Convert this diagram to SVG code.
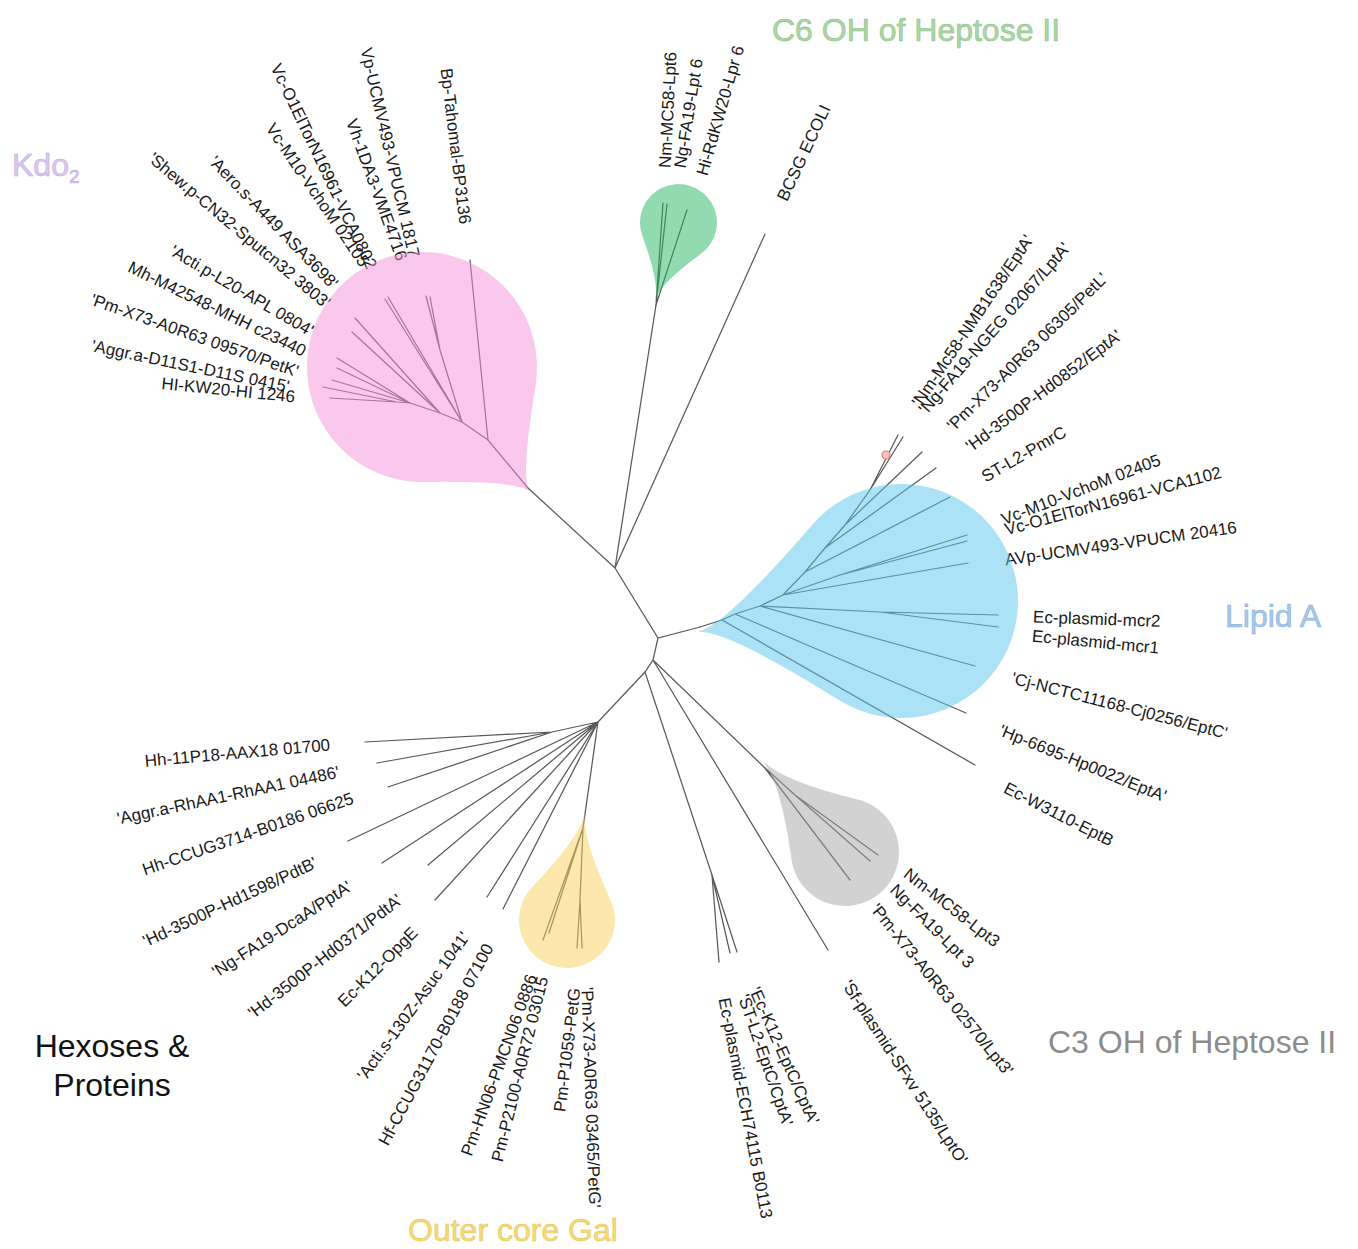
<svg xmlns="http://www.w3.org/2000/svg" width="1358" height="1249" viewBox="0 0 1358 1249">
<style>
.br{stroke:#5a5a5a;stroke-width:1.25;fill:none;stroke-linecap:round}
.lb{font-family:"Liberation Sans",Arial,sans-serif;font-size:17px;fill:#1a1a1a;dominant-baseline:central}
.e{text-anchor:end}
.ti{font-family:"Liberation Sans",Arial,sans-serif;font-size:32px}
.blob{opacity:0.5}
</style>
<rect width="1358" height="1249" fill="#ffffff"/>
<g id="branches">
<path class="br" d="M528,488L488,440L462,422L440,413L410,403M528,488L615,568L656,305M615,568L765,234M615,568L658,638L700,627M658,638L653,660L645,672L598,722M645,672L712,875M653,660L828,950M653,660L765,768"/>
<path class="br" d="M488,440L470,260M462,422L440,350L426,296M440,350L430,297M462,422L388,297M462,422L385,299M440,413L355,318M440,413L352,332M410,403L337,358M410,403L337,368M410,403L332,380M410,403L397,402L323,387M397,402L330,398"/>
<path class="br" d="M656,305L663,203M656,305L667,204M656,305L687,210"/>
<path class="br" d="M700,627L722,620L735,614L760,606L783,595L805,572L825,548L845,525L870,490L898,435M870,490L903,437M722,620L975,765M735,614L966,713M760,606L975,666M760,606L880,612L998,615M880,612L998,627M783,595L968,563M783,595L840,575L967,535M840,575L967,541M805,572L950,497M825,548L936,468M845,525L922,452"/>
<path class="br" d="M765,768L795,795L878,855M795,795L870,861M765,768L850,880M712,875L719,962M712,875L730,953M712,875L737,952"/>
<path class="br" d="M598,722L552,732L365,742M552,732L377,763M552,732L388,787M598,722L348,841M598,722L382,863M598,722L428,865M598,722L435,900M598,722L487,897M598,722L503,909M598,722L583,828L543,940M583,828L549,933M583,828L580,900L577,948M580,900L582,948"/>
<circle cx="886" cy="455" r="4" fill="#f7c4c4" stroke="#e07a7a" stroke-width="1.2"/>
</g>
<g id="kdo2-labels">
<text class="lb e" transform="translate(465,224) rotate(83)">Bp-Tahomal-BP3136</text>
<text class="lb e" transform="translate(414,257) rotate(77)">Vp-UCMV493-VPUCM 1817</text>
<text class="lb e" transform="translate(402,260) rotate(70)">Vh-1DA3-VME4716</text>
<text class="lb e" transform="translate(372,268) rotate(64.5)">Vc-O1ElTorN16961-VCA0802</text>
<text class="lb e" transform="translate(365,265) rotate(55.7)">Vc-M10-VchoM 02105</text>
<text class="lb e" transform="translate(335,286) rotate(46)">'Aero.s-A449 ASA3698'</text>
<text class="lb e" transform="translate(328,305) rotate(40)">'Shew.p-CN32-Sputcn32 3803'</text>
<text class="lb e" transform="translate(312,332) rotate(30.4)">'Acti.p-L20-APL 0804'</text>
<text class="lb e" transform="translate(305,352) rotate(26)">Mh-M42548-MHH c23440</text>
<text class="lb e" transform="translate(298,372) rotate(19.4)">'Pm-X73-A0R63 09570/PetK'</text>
<text class="lb e" transform="translate(289,387) rotate(11.8)">'Aggr.a-D11S1-D11S 0415'</text>
<text class="lb e" transform="translate(295,397) rotate(5.8)">HI-KW20-HI 1246</text>
</g>
<g id="c6-labels">
<text class="lb" transform="translate(665,168) rotate(-87)">Nm-MC58-Lpt6</text>
<text class="lb" transform="translate(680,168) rotate(-81)">Ng-FA19-Lpt 6</text>
<text class="lb" transform="translate(702,175) rotate(-74)">Hi-RdKW20-Lpr 6</text>
<text class="lb" transform="translate(782,200) rotate(-65)">BCSG ECOLI</text>
</g>
<g id="lipidA-labels">
<text class="lb" transform="translate(916,405) rotate(-56)">'Nm-Mc58-NMB1638/EptA'</text>
<text class="lb" transform="translate(922,412) rotate(-49)">'Ng-FA19-NGEG 02067/LptA'</text>
<text class="lb" transform="translate(950,428) rotate(-44.5)">'Pm-X73-A0R63 06305/PetL'</text>
<text class="lb" transform="translate(968,448) rotate(-37)">'Hd-3500P-Hd0852/EptA'</text>
<text class="lb" transform="translate(983,478) rotate(-30)">ST-L2-PmrC</text>
<text class="lb" transform="translate(1002,520) rotate(-21)">Vc-M10-VchoM 02405</text>
<text class="lb" transform="translate(1005,530) rotate(-15)">Vc-O1ElTorN16961-VCA1102</text>
<text class="lb" transform="translate(1005,560) rotate(-8)">AVp-UCMV493-VPUCM 20416</text>
<text class="lb" transform="translate(1033,617) rotate(2)">Ec-plasmid-mcr2</text>
<text class="lb" transform="translate(1032,636) rotate(5.5)">Ec-plasmid-mcr1</text>
<text class="lb" transform="translate(1012,678) rotate(14.5)">'Cj-NCTC11168-Cj0256/EptC'</text>
<text class="lb" transform="translate(1000,730) rotate(22)">'Hp-6695-Hp0022/EptA'</text>
<text class="lb" transform="translate(1005,787) rotate(27)">Ec-W3110-EptB</text>
</g>
<g id="c3-labels">
<text class="lb" transform="translate(906,872) rotate(38)">Nm-MC58-Lpt3</text>
<text class="lb" transform="translate(893,887) rotate(45)">Ng-FA19-Lpt 3</text>
<text class="lb" transform="translate(874,906) rotate(51)">'Pm-X73-A0R63 02570/Lpt3'</text>
<text class="lb" transform="translate(846,982) rotate(57)">'Sf-plasmid-SFxv 5135/LptO'</text>
<text class="lb" transform="translate(754,988) rotate(66)">'Ec-K12-EptC/CptA'</text>
<text class="lb" transform="translate(743,995) rotate(71)">'ST-L2-EptC/CptA'</text>
<text class="lb" transform="translate(724,998) rotate(79)">Ec-plasmid-ECH74115 B0113</text>
</g>
<g id="gal-labels">
<text class="lb e" transform="translate(532,975) rotate(-70)">Pm-HN06-PMCN06 0886</text>
<text class="lb e" transform="translate(543,977) rotate(-76)">Pm-P2100-A0R72 03015</text>
<text class="lb e" transform="translate(575,988) rotate(-83)">Pm-P1059-PetG</text>
<text class="lb" transform="translate(587,987) rotate(88)">'Pm-X73-A0R63 03465/PetG'</text>
</g>
<g id="hexoses-labels">
<text class="lb e" transform="translate(330,745) rotate(-5)">Hh-11P18-AAX18 01700</text>
<text class="lb e" transform="translate(339,772) rotate(-12)">'Aggr.a-RhAA1-RhAA1 04486'</text>
<text class="lb e" transform="translate(353,798) rotate(-19)">Hh-CCUG3714-B0186 06625</text>
<text class="lb e" transform="translate(316,862) rotate(-25)">'Hd-3500P-Hd1598/PdtB'</text>
<text class="lb e" transform="translate(350,885) rotate(-33)">'Ng-FA19-DcaA/PptA'</text>
<text class="lb e" transform="translate(400,898) rotate(-38)">'Hd-3500P-Hd0371/PdtA'</text>
<text class="lb e" transform="translate(415,930) rotate(-45)">Ec-K12-OpgE</text>
<text class="lb e" transform="translate(466,934) rotate(-54)">'Acti.s-130Z-Asuc 1041'</text>
<text class="lb e" transform="translate(489,945) rotate(-62)">Hf-CCUG31170-B0188 07100</text>
</g>
<g id="clade-kdo2"><path class="blob" fill="#f391d9" d="M530,492 Q520,480.5 423.8,482 A115,115 0 1 1 535.5,385.6 Q520,480.5 530,492 Z"/></g>
<g id="clade-lipidA"><path class="blob" fill="#59c5ed" d="M697,632 Q723.5,627.8 812.3,524.7 A117,117 0 1 1 838.8,700.1 Q723.5,627.8 697,632 Z"/></g>
<g id="clade-c6"><path class="blob" fill="#25b561" d="M655,300 Q659.9,283.7 642.3,235.7 A38.5,38.5 0 1 1 701.2,253.6 Q659.9,283.7 655,300 Z"/></g>
<g id="clade-gal"><path class="blob" fill="#f9d159" d="M585,812 Q581,836.3 610.5,899.8 A48,48 0 1 1 532.4,886.7 Q581,836.3 585,812 Z"/></g>
<g id="clade-c3"><path class="blob" fill="#a5a5a5" d="M762,760 Q780.8,780.8 857.7,799.5 A54,54 0 1 1 791.5,859.3 Q780.8,780.8 762,760 Z"/></g>
<g id="titles">
<text class="ti" x="772" y="41" fill="#acd6a6" stroke="#8cbf87" stroke-width="0.6">C6 OH of Heptose II</text>
<text class="ti" x="12" y="176" fill="#dcc8ee" stroke="#c2a8de" stroke-width="0.6">Kdo<tspan font-size="19" dy="7">2</tspan></text>
<text class="ti" x="1225" y="627" fill="#a6c8e8" stroke="#8ab3dc" stroke-width="0.6">Lipid A</text>
<text class="ti" x="1048" y="1053" fill="#8c8c8c">C3 OH of Heptose II</text>
<text class="ti" x="408" y="1241" fill="#f4da78" stroke="#e6c65a" stroke-width="0.6">Outer core Gal</text>
<text class="ti" x="112" y="1057" fill="#111" text-anchor="middle">Hexoses &amp;</text>
<text class="ti" x="112" y="1096" fill="#111" text-anchor="middle">Proteins</text>
</g>
</svg>
